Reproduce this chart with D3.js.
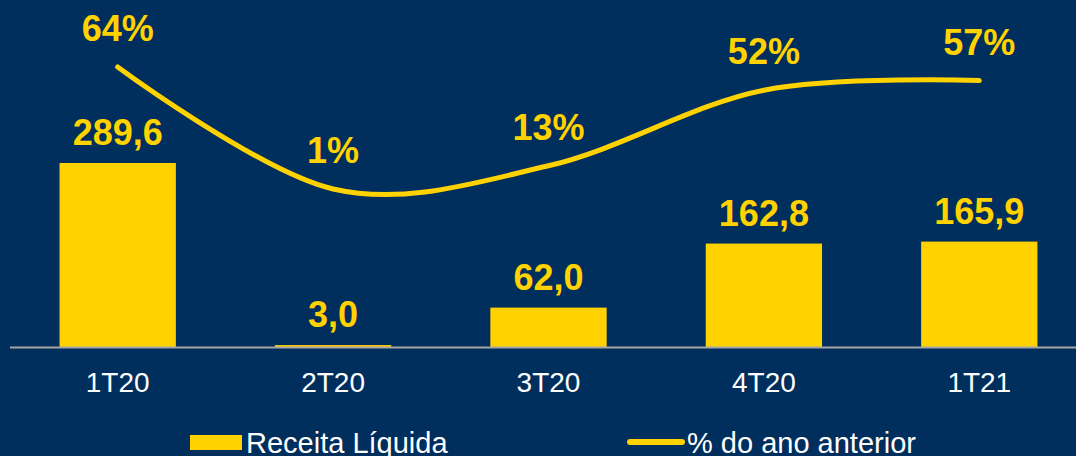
<!DOCTYPE html>
<html>
<head>
<meta charset="utf-8">
<script src="https://cdn.jsdelivr.net/npm/d3@7"></script>
<style>
  body { margin: 0; background: #002E5D; }
  svg { display: block; font-family: "Liberation Sans", Arial, sans-serif; }
</style>
</head>
<body>
<div id="chart"></div>
<script>
const quarters = ["1T20", "2T20", "3T20", "4T20", "1T21"];
const receita = [289.6, 3.0, 62.0, 162.8, 165.9];
const pctAnoAnterior = [64, 1, 13, 52, 57];
const legendLabels = ["Receita Líquida", "% do ano anterior"];

const width = 1076, height = 456;
const yellow = "#FFD200";
const fmt = d3.format(".1f");

const svg = d3.select("#chart")
  .append("svg")
  .attr("width", width)
  .attr("height", height);

svg.append("rect").attr("width", width).attr("height", height).attr("fill", "#002E5D");

const x = d3.scaleBand().domain(quarters).range([10, 1087]).paddingInner(0.46).paddingOuter(0.23);
const yBar = d3.scaleLinear().domain([0, 289.6]).range([347, 163]);
const yPct = d3.scaleLinear().domain([1, 64]).range([189, 67]);

const cx = d => x(d) + x.bandwidth() / 2;

// bars
svg.selectAll(".bar")
  .data(quarters)
  .enter()
  .append("rect")
  .attr("class", "bar")
  .attr("x", d => x(d))
  .attr("width", x.bandwidth())
  .attr("y", (d, i) => yBar(receita[i]))
  .attr("height", (d, i) => yBar(0) - yBar(receita[i]))
  .attr("fill", yellow);

// baseline
svg.append("line")
  .attr("x1", 10).attr("x2", width)
  .attr("y1", 347.5).attr("y2", 347.5)
  .attr("stroke", "#A6A6A6")
  .attr("stroke-width", 2);

// category labels
svg.selectAll(".cat")
  .data(quarters)
  .enter()
  .append("text")
  .attr("x", cx)
  .attr("y", 392)
  .attr("text-anchor", "middle")
  .attr("fill", "#FFFFFF")
  .attr("font-size", 28)
  .text(d => d);

// bar value labels
svg.selectAll(".barlabel")
  .data(quarters)
  .enter()
  .append("text")
  .attr("x", cx)
  .attr("y", (d, i) => yBar(receita[i]) - 18)
  .attr("text-anchor", "middle")
  .attr("fill", yellow)
  .attr("font-size", 36)
  .attr("font-weight", "bold")
  .text((d, i) => fmt(receita[i]).replace(".", ","));

// line
const line = d3.line()
  .x(d => cx(d[0]))
  .y(d => yPct(d[1]))
  .curve(d3.curveCatmullRom.alpha(0));

svg.append("path")
  .datum(quarters.map((q, i) => [q, pctAnoAnterior[i]]))
  .attr("d", line)
  .attr("fill", "none")
  .attr("stroke", yellow)
  .attr("stroke-width", 5)
  .attr("stroke-linecap", "round");

// pct labels
svg.selectAll(".pctlabel")
  .data(quarters)
  .enter()
  .append("text")
  .attr("x", cx)
  .attr("y", (d, i) => yPct(pctAnoAnterior[i]) - 26)
  .attr("text-anchor", "middle")
  .attr("fill", yellow)
  .attr("font-size", 36)
  .attr("font-weight", "bold")
  .text((d, i) => pctAnoAnterior[i] + "%");

// legend
const legend = svg.append("g");
legend.append("rect")
  .attr("x", 190).attr("y", 435).attr("width", 52).attr("height", 15)
  .attr("fill", yellow);
legend.append("text")
  .attr("x", 246).attr("y", 453)
  .attr("fill", "#FFFFFF").attr("font-size", 29)
  .text(legendLabels[0]);
legend.append("line")
  .attr("x1", 630).attr("x2", 682).attr("y1", 442).attr("y2", 442)
  .attr("stroke", yellow).attr("stroke-width", 6).attr("stroke-linecap", "round");
legend.append("text")
  .attr("x", 687).attr("y", 453)
  .attr("fill", "#FFFFFF").attr("font-size", 29)
  .text(legendLabels[1]);
</script>
</body>
</html>
